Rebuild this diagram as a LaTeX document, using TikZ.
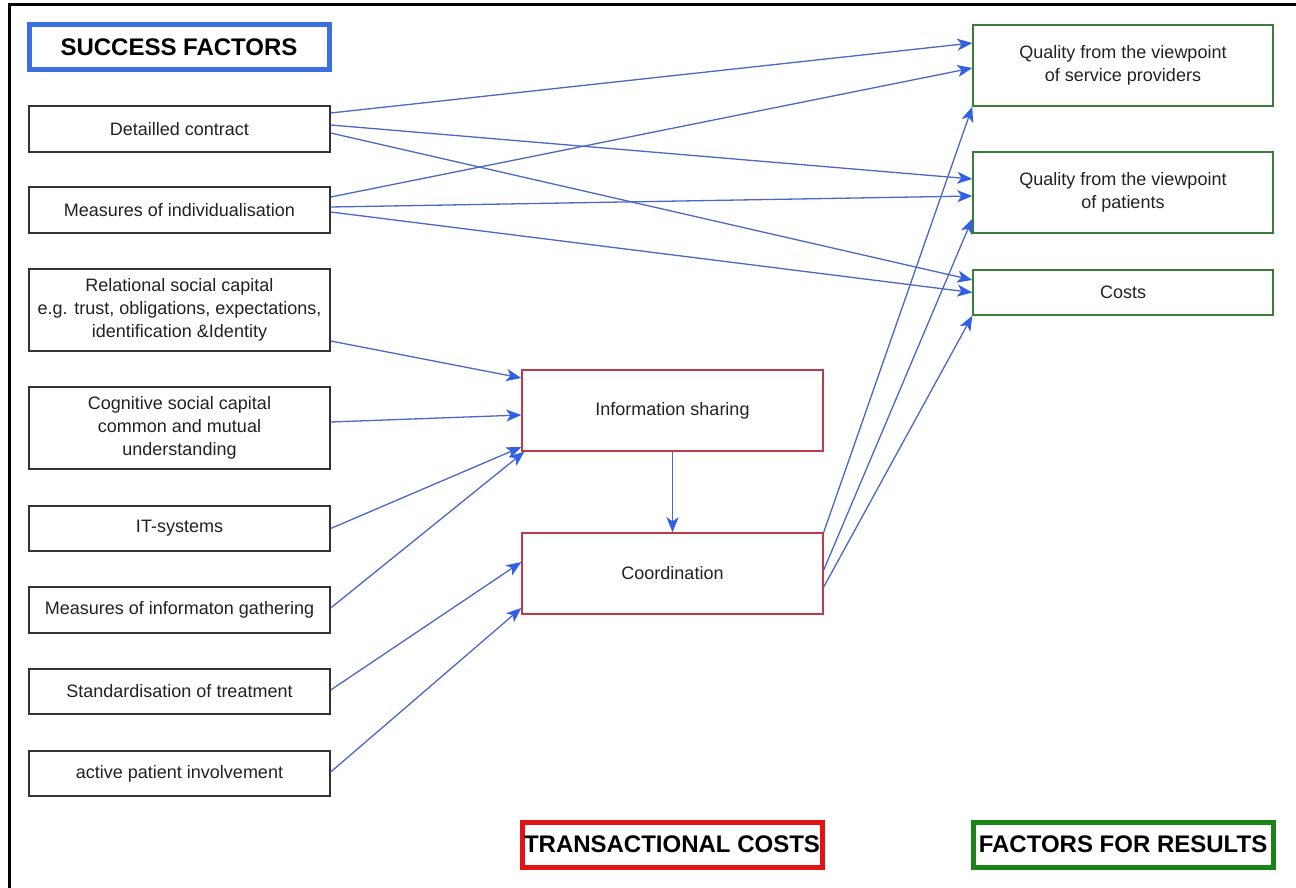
\documentclass[tikz,border=0pt]{standalone}
\usepackage{fontspec}
\setmainfont{Liberation Sans}
\usetikzlibrary{arrows.meta}
\definecolor{linec}{HTML}{4A68C4}
\definecolor{tipc}{HTML}{3160E6}
\definecolor{leftc}{HTML}{333333}
\definecolor{midc}{HTML}{C0394A}
\definecolor{rightc}{HTML}{3A7D3A}
\definecolor{hblue}{HTML}{3B6FE0}
\definecolor{hred}{HTML}{E01414}
\definecolor{hgreen}{HTML}{1A841A}
\definecolor{txt}{HTML}{222222}
\tikzset{
  box/.style={draw, line width=1.4pt, rectangle, inner sep=0pt, align=center,
    text=txt, font=\fontsize{18}{23}\selectfont},
  lbox/.style={box, draw=leftc, minimum width=301pt},
  mbox/.style={box, draw=midc, minimum width=301pt, minimum height=81pt},
  rbox/.style={box, draw=rightc, minimum width=300pt},
  head/.style={draw, line width=5pt, rectangle, inner sep=0pt, align=center,
    text=black, font=\fontsize{24}{28}\selectfont\bfseries,
    minimum width=300pt, minimum height=45pt},
  conn/.style={draw=linec, line width=1.3pt,
    -{Stealth[length=15pt,width=12pt,inset=4pt,color=tipc]}}
}
\begin{document}
\begin{tikzpicture}[x=1pt,y=-1pt]
\useasboundingbox (0,0) rectangle (1296,888);
\fill[white] (0,0) rectangle (1296,888);
% outer frame (cropped)
\draw[line width=3pt, black] (9,888) -- (9,5) -- (1296,5);

% headings
\node[head, draw=hblue] (hsf) at (179,47.5) {SUCCESS FACTORS};
\node[head, draw=hred] (htc) at (672,844.5) {TRANSACTIONAL COSTS};
\node[head, draw=hgreen] (hfr) at (1123,844.5) {FACTORS FOR RESULTS};

% left column
\node[lbox, minimum height=46pt] (dc) at (179.5,129) {Detailled contract};
\node[lbox, minimum height=46pt] (mi) at (179.5,210) {Measures of individualisation};
\node[lbox, minimum height=82pt] (rel) at (179.5,310) {Relational social capital\\e.g. trust, obligations, expectations,\\identification \&Identity};
\node[lbox, minimum height=82pt] (cog) at (179.5,428) {Cognitive social capital\\common and mutual\\understanding};
\node[lbox, minimum height=45pt] (it) at (179.5,528.5) {IT-systems};
\node[lbox, minimum height=46pt] (ig) at (179.5,610) {Measures of informaton gathering};
\node[lbox, minimum height=45pt] (st) at (179.5,691.5) {Standardisation of treatment};
\node[lbox, minimum height=45pt] (ap) at (179.5,773.5) {active patient involvement};

% middle column
\node[mbox] (is) at (672.5,410.5) {Information sharing};
\node[mbox] (co) at (672.5,573.5) {Coordination};

% right column
\node[rbox, minimum height=81pt] (qs) at (1123,65.5) {Quality from the viewpoint\\of service providers};
\node[rbox, minimum height=81pt] (qp) at (1123,192.5) {Quality from the viewpoint\\of patients};
\node[rbox, minimum height=45pt] (cs) at (1123,292.5) {Costs};

% connectors to results
\draw[conn] ([yshift=16pt]dc.east) -- ([yshift=22.5pt]qs.west);
\draw[conn] ([yshift=13pt]mi.east) -- ([yshift=-2.5pt]qs.west);
\draw[conn] ([yshift=4pt]dc.east) -- ([yshift=13.5pt]qp.west);
\draw[conn] ([yshift=3pt]mi.east) -- ([yshift=-3.5pt]qp.west);
\draw[conn] ([yshift=-4pt]dc.east) -- ([yshift=12.5pt]cs.west);
\draw[conn] ([yshift=-2pt]mi.east) -- (cs.west);

% connectors to information sharing / coordination
\draw[conn] ([yshift=-31pt]rel.east) -- ([yshift=32.5pt]is.west);
\draw[conn] ([yshift=6pt]cog.east) -- ([yshift=-4.5pt]is.west);
\draw[conn] (it.east) -- ([yshift=-36.5pt]is.west);
\draw[conn] ([yshift=2pt]ig.east) -- ([xshift=3pt]is.south west);
\draw[conn] ([yshift=1.5pt]st.east) -- ([yshift=11.5pt]co.west);
\draw[conn] ([yshift=1.5pt]ap.east) -- ([yshift=-34.5pt]co.west);
\draw[conn] (is.south) -- (co.north);

% coordination to results
\draw[conn] (co.north east) -- (qs.south west);
\draw[conn] ([yshift=3.5pt]co.east) -- ([yshift=15pt]qp.south west);
\draw[conn] ([yshift=-13.5pt]co.east) -- (cs.south west);
\end{tikzpicture}
\end{document}
